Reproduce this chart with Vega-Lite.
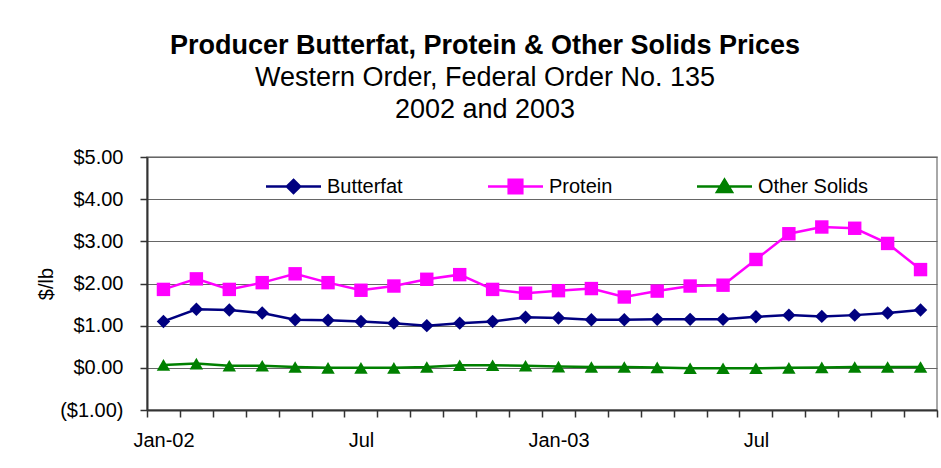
{
  "$schema": "https://vega.github.io/schema/vega-lite/v6.json",
  "autosize": {"type": "none"},
  "width": 790,
  "height": 253,
  "padding": {"left": 147, "top": 157, "right": 4, "bottom": 58},
  "background": "white",
  "config": {
    "font": "Liberation Sans",
    "view": {"stroke": "#8c8c8c", "strokeWidth": 1.5},
    "legend": {
      "title": null,
      "orient": "none",
      "direction": "horizontal",
      "symbolSize": 484,
      "symbolOpacity": 1,
      "symbolStrokeWidth": 2.5,
      "labelFont": "Liberation Sans",
      "labelFontSize": 20,
      "labelColor": "black",
      "labelOffset": 21
    }
  },
  "title": {
    "text": "Producer Butterfat, Protein & Other Solids Prices",
    "subtitle": ["Western Order, Federal Order No. 135", "2002 and 2003"],
    "font": "Liberation Sans",
    "fontSize": 27,
    "fontWeight": "bold",
    "color": "black",
    "subtitleFont": "Liberation Sans",
    "subtitleFontSize": 27,
    "subtitleColor": "black",
    "subtitleLineHeight": 32,
    "subtitlePadding": 5,
    "anchor": "middle",
    "frame": "group",
    "dx": -57,
    "offset": 23
  },
  "data": {
    "values": [
      {"month": "Jan-02", "series": "Butterfat", "value": 1.10},
      {"month": "Feb-02", "series": "Butterfat", "value": 1.39},
      {"month": "Mar-02", "series": "Butterfat", "value": 1.37},
      {"month": "Apr-02", "series": "Butterfat", "value": 1.30},
      {"month": "May-02", "series": "Butterfat", "value": 1.14},
      {"month": "Jun-02", "series": "Butterfat", "value": 1.13},
      {"month": "Jul-02", "series": "Butterfat", "value": 1.10},
      {"month": "Aug-02", "series": "Butterfat", "value": 1.06},
      {"month": "Sep-02", "series": "Butterfat", "value": 1.00},
      {"month": "Oct-02", "series": "Butterfat", "value": 1.06},
      {"month": "Nov-02", "series": "Butterfat", "value": 1.10},
      {"month": "Dec-02", "series": "Butterfat", "value": 1.20},
      {"month": "Jan-03", "series": "Butterfat", "value": 1.18},
      {"month": "Feb-03", "series": "Butterfat", "value": 1.14},
      {"month": "Mar-03", "series": "Butterfat", "value": 1.14},
      {"month": "Apr-03", "series": "Butterfat", "value": 1.15},
      {"month": "May-03", "series": "Butterfat", "value": 1.15},
      {"month": "Jun-03", "series": "Butterfat", "value": 1.15},
      {"month": "Jul-03", "series": "Butterfat", "value": 1.21},
      {"month": "Aug-03", "series": "Butterfat", "value": 1.25},
      {"month": "Sep-03", "series": "Butterfat", "value": 1.22},
      {"month": "Oct-03", "series": "Butterfat", "value": 1.25},
      {"month": "Nov-03", "series": "Butterfat", "value": 1.30},
      {"month": "Dec-03", "series": "Butterfat", "value": 1.37},
      {"month": "Jan-02", "series": "Protein", "value": 1.86},
      {"month": "Feb-02", "series": "Protein", "value": 2.11},
      {"month": "Mar-02", "series": "Protein", "value": 1.86},
      {"month": "Apr-02", "series": "Protein", "value": 2.02},
      {"month": "May-02", "series": "Protein", "value": 2.23},
      {"month": "Jun-02", "series": "Protein", "value": 2.02},
      {"month": "Jul-02", "series": "Protein", "value": 1.84},
      {"month": "Aug-02", "series": "Protein", "value": 1.94},
      {"month": "Sep-02", "series": "Protein", "value": 2.10},
      {"month": "Oct-02", "series": "Protein", "value": 2.21},
      {"month": "Nov-02", "series": "Protein", "value": 1.86},
      {"month": "Dec-02", "series": "Protein", "value": 1.77},
      {"month": "Jan-03", "series": "Protein", "value": 1.83},
      {"month": "Feb-03", "series": "Protein", "value": 1.88},
      {"month": "Mar-03", "series": "Protein", "value": 1.68},
      {"month": "Apr-03", "series": "Protein", "value": 1.82},
      {"month": "May-03", "series": "Protein", "value": 1.94},
      {"month": "Jun-03", "series": "Protein", "value": 1.96},
      {"month": "Jul-03", "series": "Protein", "value": 2.57},
      {"month": "Aug-03", "series": "Protein", "value": 3.18},
      {"month": "Sep-03", "series": "Protein", "value": 3.34},
      {"month": "Oct-03", "series": "Protein", "value": 3.31},
      {"month": "Nov-03", "series": "Protein", "value": 2.95},
      {"month": "Dec-03", "series": "Protein", "value": 2.33},
      {"month": "Jan-02", "series": "Other Solids", "value": 0.07},
      {"month": "Feb-02", "series": "Other Solids", "value": 0.10},
      {"month": "Mar-02", "series": "Other Solids", "value": 0.05},
      {"month": "Apr-02", "series": "Other Solids", "value": 0.05},
      {"month": "May-02", "series": "Other Solids", "value": 0.02},
      {"month": "Jun-02", "series": "Other Solids", "value": 0.00},
      {"month": "Jul-02", "series": "Other Solids", "value": 0.00},
      {"month": "Aug-02", "series": "Other Solids", "value": 0.00},
      {"month": "Sep-02", "series": "Other Solids", "value": 0.02},
      {"month": "Oct-02", "series": "Other Solids", "value": 0.06},
      {"month": "Nov-02", "series": "Other Solids", "value": 0.06},
      {"month": "Dec-02", "series": "Other Solids", "value": 0.05},
      {"month": "Jan-03", "series": "Other Solids", "value": 0.03},
      {"month": "Feb-03", "series": "Other Solids", "value": 0.02},
      {"month": "Mar-03", "series": "Other Solids", "value": 0.02},
      {"month": "Apr-03", "series": "Other Solids", "value": 0.01},
      {"month": "May-03", "series": "Other Solids", "value": -0.01},
      {"month": "Jun-03", "series": "Other Solids", "value": -0.01},
      {"month": "Jul-03", "series": "Other Solids", "value": -0.01},
      {"month": "Aug-03", "series": "Other Solids", "value": 0.00},
      {"month": "Sep-03", "series": "Other Solids", "value": 0.01},
      {"month": "Oct-03", "series": "Other Solids", "value": 0.02},
      {"month": "Nov-03", "series": "Other Solids", "value": 0.02},
      {"month": "Dec-03", "series": "Other Solids", "value": 0.02}
    ]
  },
  "encoding": {
    "x": {
      "field": "month",
      "type": "ordinal",
      "sort": null,
      "scale": {"type": "band", "paddingInner": 0, "paddingOuter": 0},
      "axis": {
        "title": null,
        "tickBand": "extent",
        "labelAngle": 0,
        "labelOverlap": false,
        "labelExpr": "datum.value === 'Jan-02' ? 'Jan-02' : datum.value === 'Jul-02' ? 'Jul' : datum.value === 'Jan-03' ? 'Jan-03' : datum.value === 'Jul-03' ? 'Jul' : ''",
        "labelFont": "Liberation Sans",
        "labelFontSize": 20,
        "labelColor": "black",
        "labelPadding": 13,
        "tickSize": 7,
        "tickColor": "#333333",
        "tickWidth": 1.5,
        "domainColor": "#333333",
        "domainWidth": 2,
        "grid": false
      }
    },
    "y": {
      "field": "value",
      "type": "quantitative",
      "scale": {"domain": [-1, 5], "nice": false, "zero": false},
      "axis": {
        "title": "$/lb",
        "titleFont": "Liberation Sans",
        "titleFontSize": 20,
        "titleFontWeight": "normal",
        "titleColor": "black",
        "titlePadding": 3,
        "values": [-1, 0, 1, 2, 3, 4, 5],
        "labelExpr": "datum.value < 0 ? '(' + format(-datum.value, '$.2f') + ')' : format(datum.value, '$.2f')",
        "labelFont": "Liberation Sans",
        "labelFontSize": 20,
        "labelColor": "black",
        "labelPadding": 17,
        "tickSize": 7,
        "tickColor": "#333333",
        "tickWidth": 1.5,
        "domainColor": "#333333",
        "domainWidth": 2,
        "grid": true,
        "gridColor": "#666666",
        "gridWidth": 1
      }
    }
  },
  "layer": [
    {
      "mark": {"type": "line", "strokeWidth": 2.5},
      "encoding": {
        "color": {
          "field": "series",
          "type": "nominal",
          "scale": {
            "domain": ["Butterfat", "Protein", "Other Solids"],
            "range": ["#000080", "#ff00ff", "#008000"]
          },
          "legend": null
        }
      }
    },
    {
      "mark": {"type": "point", "filled": true, "opacity": 1, "size": 180},
      "encoding": {
        "color": {
          "field": "series",
          "type": "nominal",
          "legend": null
        },
        "shape": {
          "field": "series",
          "type": "nominal",
          "scale": {
            "domain": ["Butterfat", "Protein", "Other Solids"],
            "range": ["diamond", "square", "triangle-up"]
          },
          "legend": null
        }
      }
    },
    {
      "transform": [{"filter": "datum.series === 'Butterfat'"}],
      "mark": {"type": "point", "filled": true, "opacity": 0},
      "encoding": {
        "fill": {"field": "series", "type": "nominal", "scale": {"domain": ["Butterfat", "Protein", "Other Solids"], "range": ["#000080", "#ff00ff", "#008000"]}, "legend": null},
        "stroke": {"field": "series", "type": "nominal", "scale": {"domain": ["Butterfat", "Protein", "Other Solids"], "range": ["#000080", "#ff00ff", "#008000"]}, "legend": null},
        "shape": {
          "field": "series",
          "type": "nominal",
          "scale": {
            "domain": ["Butterfat"],
            "range": ["M-2.5,0H2.5M0,-0.6L0.6,0L0,0.6L-0.6,0Z"]
          },
          "legend": {"legendX": 134, "legendY": 17, "symbolFillColor": "#000080", "symbolStrokeColor": "#000080"}
        }
      }
    },
    {
      "transform": [{"filter": "datum.series === 'Protein'"}],
      "mark": {"type": "point", "filled": true, "opacity": 0},
      "encoding": {
        "fill": {"field": "series", "type": "nominal", "legend": null},
        "stroke": {"field": "series", "type": "nominal", "legend": null},
        "shape": {
          "field": "series",
          "type": "nominal",
          "scale": {
            "domain": ["Protein"],
            "range": ["M-2.5,0H2.5M-0.62,-0.62H0.62V0.62H-0.62Z"]
          },
          "legend": {"legendX": 356, "legendY": 17, "symbolFillColor": "#ff00ff", "symbolStrokeColor": "#ff00ff"}
        }
      }
    },
    {
      "transform": [{"filter": "datum.series === 'Other Solids'"}],
      "mark": {"type": "point", "filled": true, "opacity": 0},
      "encoding": {
        "fill": {"field": "series", "type": "nominal", "legend": null},
        "stroke": {"field": "series", "type": "nominal", "legend": null},
        "shape": {
          "field": "series",
          "type": "nominal",
          "scale": {
            "domain": ["Other Solids"],
            "range": ["M-2.5,0H2.5M0,-0.62L0.68,0.5H-0.68Z"]
          },
          "legend": {"legendX": 565, "legendY": 17, "symbolFillColor": "#008000", "symbolStrokeColor": "#008000"}
        }
      }
    }
  ],
  "resolve": {"scale": {"shape": "independent"}}
}
